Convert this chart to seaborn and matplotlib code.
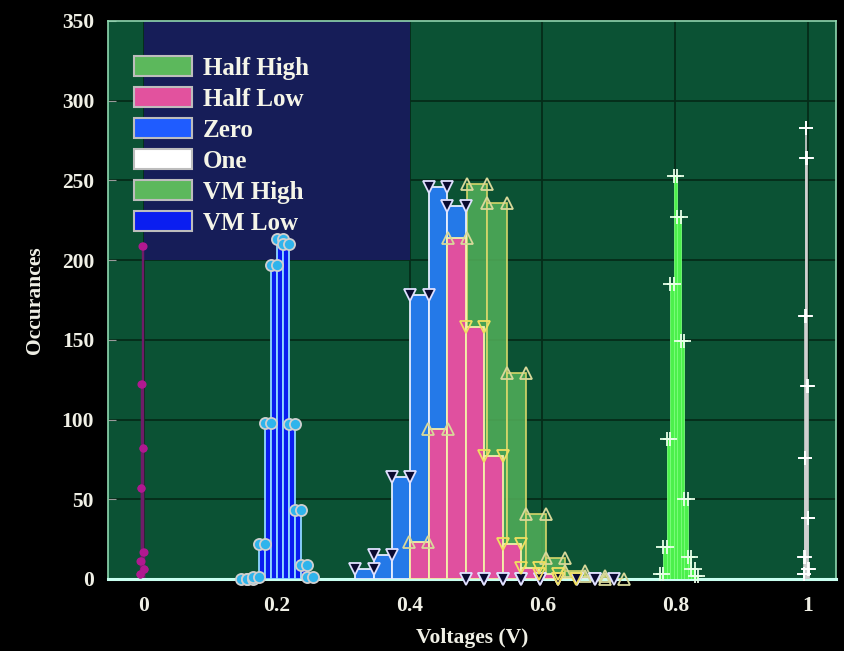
import numpy as np
import pandas as pd
import matplotlib
matplotlib.use("Agg")
import matplotlib.pyplot as plt
import seaborn as sns
from matplotlib.patches import Patch, Rectangle

plt.rcParams["font.family"] = ["Liberation Serif", "DejaVu Serif"]
plt.rcParams["font.weight"] = "bold"

# ---- histogram data: first bin edge (V), bin width (V), counts per bin ----
ground_start, ground_width = -0.0065, 0.0009
ground_counts = [3, 11, 57, 122, 209, 82, 17, 6]

vm_low_start, vm_low_width = 0.146, 0.009
vm_low_counts = [0, 0, 1, 22, 98, 197, 213, 210, 97, 43, 9, 1]

half_high_start, half_high_width = 0.3985, 0.0295
half_high_counts = [23, 94, 214, 248, 236, 129, 41, 13, 5, 2, 0]

zero_start, zero_width = 0.318, 0.0278
zero_counts = [6, 15, 64, 178, 246, 234, 0, 0, 0, 0, 0, 0, 0, 0]

half_low_start, half_low_width = 0.401, 0.0278
half_low_counts = [23, 94, 214, 158, 77, 22, 7, 3, 0]

vm_high_start, vm_high_width = 0.7765, 0.0053
vm_high_counts = [3, 20, 88, 185, 253, 227, 149, 50, 14, 6, 2]

one_start, one_width = 0.9935, 0.0008
one_counts = [3, 14, 76, 165, 283, 264, 121, 38, 6]

legend_names = ["Half High", "Half Low", "Zero", "One", "VM High", "VM Low"]
legend_colors = ["#5cb85c", "#e2529e", "#1f5cff", "#ffffff", "#5cb85c", "#0a1ef0"]

x_ticks = [0, 0.2, 0.4, 0.6, 0.8, 1.0]
x_tick_labels = ["0", "0.2", "0.4", "0.6", "0.8", "1"]
y_ticks = [0, 50, 100, 150, 200, 250, 300, 350]

fig = plt.figure(figsize=(8.44, 6.51), dpi=100, facecolor="black")
ax = fig.add_axes([108 / 844, 72 / 651, 728 / 844, 558 / 651])
ax.set_facecolor("#0b5234")


def draw_series(start, width, counts, face, edge, lw, alpha, z,
                marker, ms, mfc, mec, mew=1.3, falling_only=False):
    counts = np.asarray(counts, dtype=float)
    edges = start + width * np.arange(len(counts) + 1)
    frame = pd.DataFrame({"volts": (edges[:-1] + edges[1:]) / 2,
                          "count": counts})
    sns.histplot(data=frame, x="volts", weights="count", bins=edges.tolist(),
                 element="bars", fill=True, color=face, edgecolor=edge,
                 linewidth=lw, alpha=alpha, ax=ax, zorder=z)
    xs = np.column_stack([edges[:-1], edges[1:]]).ravel()
    ys = np.repeat(counts, 2)
    every = None
    if falling_only:
        every = list(np.repeat(np.arange(len(counts)) > np.argmax(counts), 2))
    ax.plot(xs, ys, ls="none", marker=marker, ms=ms, mfc=mfc, mec=mec,
            mew=mew, markevery=every, clip_on=False, zorder=z + 10)


draw_series(ground_start, ground_width, ground_counts, "#6a1862", "#6e1c68",
            1.0, 1.0, 2, "o", 4.5, "#b01890", "#b01890")
draw_series(vm_low_start, vm_low_width, vm_low_counts, "#0a1cf0", "#8fd8ff",
            1.3, 1.0, 3, "o", 8, "#2fb4ec", "#d0d0d0")
draw_series(half_high_start, half_high_width, half_high_counts, "#52b05a",
            "#d6d66a", 1.2, 0.85, 4, "^", 9, "none", "#d8d89a")
draw_series(zero_start, zero_width, zero_counts, "#2479e8", "#e6eeff",
            1.3, 1.0, 5, "v", 9, "#0a0a30", "#e0e0ff")
draw_series(half_low_start, half_low_width, half_low_counts, "#e0509f",
            "#f4f0a8", 1.3, 1.0, 6, "v", 9, "none", "#f0e060",
            falling_only=True)
draw_series(vm_high_start, vm_high_width, vm_high_counts, "#4cf04c",
            "#7cff7c", 0.6, 1.0, 7, "+", 10, "none", "#e8ffe8")
draw_series(one_start, one_width, one_counts, "#ffffff", "#d0d0d0",
            1.2, 1.0, 8, "+", 10, "none", "#ffffff")

# dark key panel in the upper-left corner
ax.add_patch(Rectangle((0, 200), 0.4, 160, facecolor="#161d58",
                       edgecolor="none", zorder=0.6))

ax.set_xlim(-0.054, 1.042)
ax.set_ylim(0, 350)
ax.set_xticks(x_ticks)
ax.set_xticklabels(x_tick_labels)
ax.set_yticks(y_ticks)
ax.set_axisbelow(True)
ax.grid(True, color="#052c19", lw=1.3)

ax.tick_params(axis="both", direction="in", length=6, color="#9a9a9a",
               labelcolor="#f0f0e6", labelsize=15.5)
ax.tick_params(axis="y", pad=10)
ax.tick_params(axis="x", pad=12)
for lab in ax.get_xticklabels() + ax.get_yticklabels():
    lab.set_fontweight("bold")

for side in ["left", "top", "right"]:
    ax.spines[side].set_color("#8fd8b0")
    ax.spines[side].set_linewidth(1.2)
ax.spines["bottom"].set_color("#c8fff0")
ax.spines["bottom"].set_linewidth(2.2)

ax.set_xlabel("Voltages (V)", fontsize=15.5, fontweight="bold",
              color="#f0f0e6", labelpad=9)
ax.set_ylabel("Occurances", fontsize=15.5, fontweight="bold",
              color="#f0f0e6", labelpad=12)

handles = [Patch(facecolor=c, edgecolor="#bdbdbd", linewidth=1.5, label=n)
           for n, c in zip(legend_names, legend_colors)]
leg = ax.legend(handles=handles, loc="upper left",
                bbox_to_anchor=(0.036, 0.938), borderaxespad=0, borderpad=0,
                frameon=False, fontsize=18, handlelength=2.3,
                handleheight=0.9, handletextpad=0.45, labelspacing=0.28)
for t in leg.get_texts():
    t.set_color("#f5f5e8")
    t.set_fontweight("bold")
leg.set_zorder(30)

fig.savefig("out.png", dpi=100, facecolor="black")
